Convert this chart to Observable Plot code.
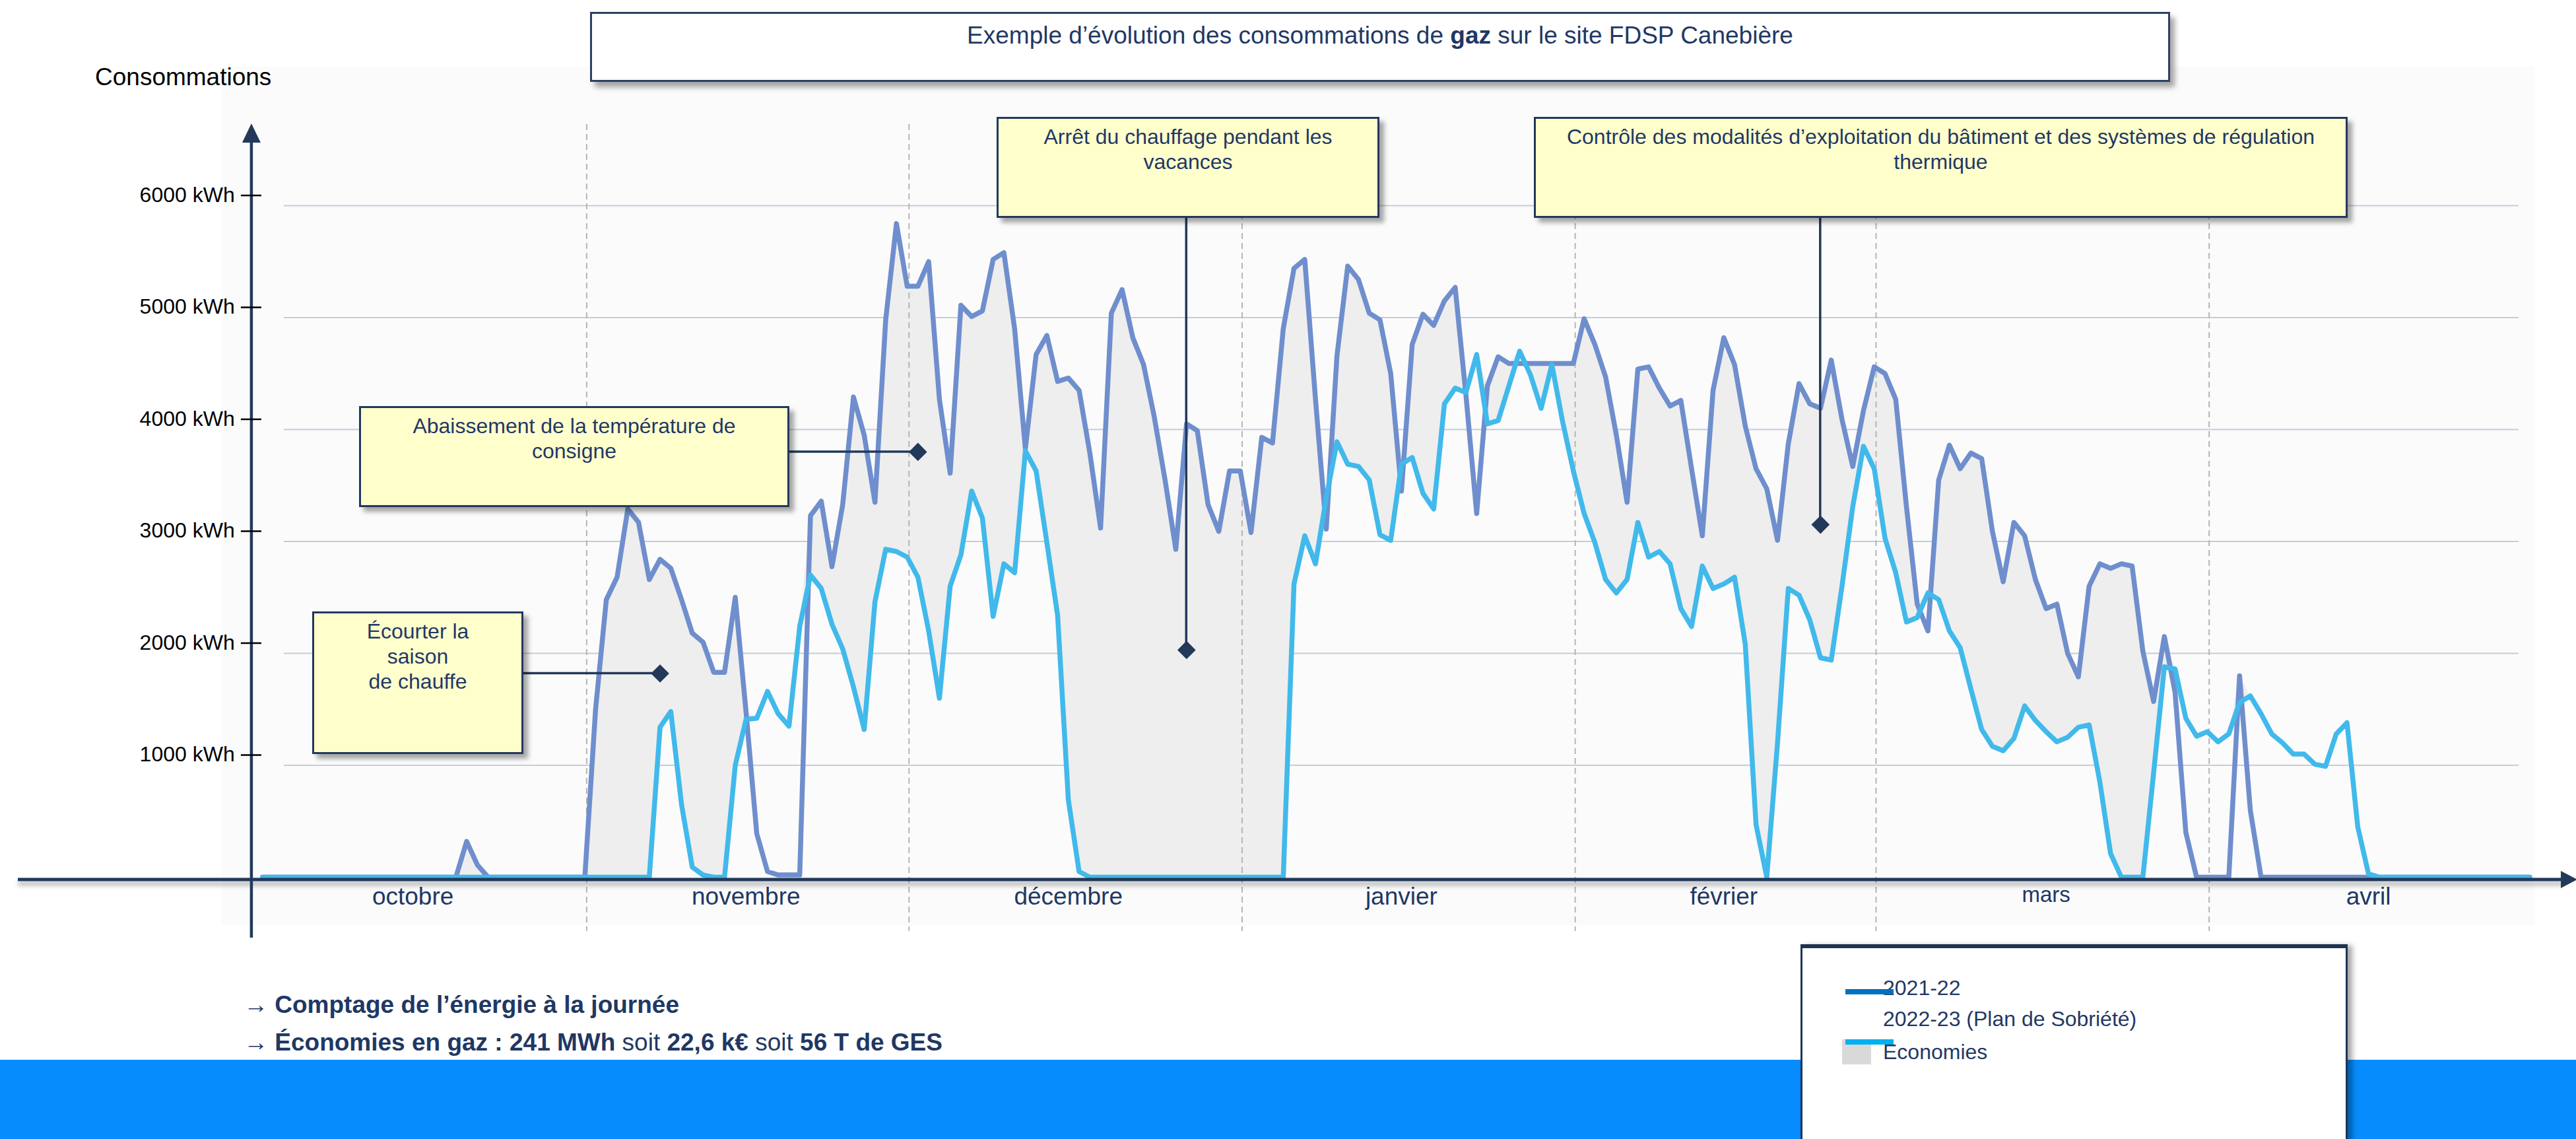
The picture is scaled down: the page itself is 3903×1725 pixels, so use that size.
<!DOCTYPE html>
<html><head><meta charset="utf-8">
<script src="https://cdn.jsdelivr.net/npm/d3@7"></script>
<script src="https://cdn.jsdelivr.net/npm/@observablehq/plot@0.6"></script>
<style>
html,body{margin:0;padding:0;background:#fff;}
#page{position:relative;width:3903px;height:1725px;overflow:hidden;background:#fff;font-family:"Liberation Sans",Arial,sans-serif;}
.abs{position:absolute;white-space:nowrap;}
.note{position:absolute;box-sizing:border-box;background:#ffffcc;border:3px solid #23395d;box-shadow:7px 7px 7px rgba(0,0,0,0.35);color:#1f3864;font-size:32px;line-height:38px;text-align:center;padding-top:8px;white-space:nowrap;}
</style></head>
<body><div id="page"></div>
<script>
// ---------------- data ----------------
const firstDay = "2022-10-01";
const months = ["octobre","novembre","décembre","janvier","février","mars","avril"];
const monthMid = ["2022-10-15","2022-11-15","2022-12-15","2023-01-15","2023-02-14","2023-03-16","2023-04-15"];
const monthStarts = ["2022-11-01","2022-12-01","2023-01-01","2023-02-01","2023-03-01","2023-04-01"];
const yTicks = [1000,2000,3000,4000,5000,6000];
const legendLabels = ["2021-22","2022-23 (Plan de Sobriété)","Économies"];

// 2021-22 daily consumption (kWh), 1 Oct -> 30 Apr
const conso2122 = [
0,0,0,0,0,0,0,0,0,0,
0,0,0,0,0,0,0,0,0,320,
110,0,0,0,0,0,0,0,0,0,
0,1500,2480,2680,3290,3170,2660,2840,2760,2480,
2180,2100,1830,1830,2500,1480,390,50,20,20,
20,3230,3360,2775,3330,4290,3950,3350,4980,5840,
5280,5280,5500,4270,3610,5110,5010,5060,5520,5580,
4900,3830,4670,4840,4430,4460,4350,3790,3120,5040,
5250,4820,4580,4110,3550,2930,4050,3990,3330,3090,
3630,3630,3080,3930,3880,4900,5440,5520,4270,3110,
4660,5460,5340,5040,4980,4500,3450,4760,5030,4930,
5150,5270,4310,3250,4390,4650,4590,4590,4590,4590,
4590,4590,4590,4990,4760,4470,3950,3350,4540,4560,
4370,4210,4260,3650,3050,4350,4820,4580,4030,3650,
3470,3010,3870,4410,4230,4190,4620,4090,3670,4170,
4560,4500,4270,3310,2440,2200,3550,3860,3650,3790,
3740,3090,2640,3170,3050,2660,2400,2440,2000,1790,
2600,2800,2760,2800,2780,2020,1570,2150,1650,400,
0,0,0,0,1800,600,0,0,0,0,
0,0,0,0,0,0,0,0,0,0,
0,0,0,0,0,0,0,0,0,0,
0,0
];
// 2022-23 (Plan de Sobriété) daily consumption (kWh)
const conso2223 = [
0,0,0,0,0,0,0,0,0,0,
0,0,0,0,0,0,0,0,0,0,
0,0,0,0,0,0,0,0,0,0,
0,0,0,0,0,0,0,1340,1480,650,
90,20,0,0,1000,1410,1420,1660,1460,1350,
2240,2700,2580,2260,2040,1700,1320,2460,2930,2910,
2860,2680,2200,1600,2600,2880,3450,3210,2330,2800,
2720,3810,3630,2990,2340,690,50,0,0,0,
0,0,0,0,0,0,0,0,0,0,
0,0,0,0,0,0,2620,3050,2800,3390,
3890,3690,3670,3550,3060,3010,3690,3750,3430,3290,
4230,4370,4330,4670,4050,4080,4390,4700,4490,4190,
4580,4070,3630,3250,2990,2660,2540,2660,3170,2860,
2910,2800,2400,2240,2780,2580,2620,2680,2080,470,
0,1200,2580,2520,2300,1960,1940,2600,3310,3850,
3650,3030,2720,2280,2320,2540,2480,2200,2050,1680,
1320,1170,1130,1240,1530,1400,1300,1210,1250,1340,
1360,850,210,0,0,0,930,1880,1860,1420,
1260,1300,1210,1280,1560,1620,1460,1280,1200,1100,
1100,1010,990,1280,1380,450,30,0,0,0,
0,0,0,0,0,0,0,0,0,0,
0,0
];

// annotations: text lines + data anchor of the diamond
const noteTexts = [
  ["Écourter la","saison","de chauffe"],
  ["Abaissement de la température de","consigne"],
  ["Arrêt du chauffage pendant les","vacances"],
  ["Contrôle des modalités d’exploitation du bâtiment et des systèmes de régulation","thermique"]
];
const noteDates = ["2022-11-07","2022-12-01","2022-12-26","2023-02-23"];
const noteValues = [1820, 3800, 2030, 3150];

// ---------------- layout (pixels) ----------------
const W = 3903, H = 1725;
const navy = "#1f3864", axisNavy = "#22395a";
const noteBoxes = [
  {left:473, top:926, width:320, height:216, side:"right"},
  {left:544, top:615, width:652, height:153, side:"right"},
  {left:1510, top:177, width:580, height:153, side:"bottom"},
  {left:2324, top:177, width:1233, height:153, side:"bottom"}
];

const page = document.getElementById("page");
function div(style, html) { const d = document.createElement("div"); d.className = "abs"; Object.assign(d.style, style); if (html !== undefined) d.innerHTML = html; page.appendChild(d); return d; }

// background panel + bottom band
div({left:"336px", top:"101px", width:"3504px", height:"1300px", background:"#fbfbfb"});
div({left:"0px", top:"1605px", width:W+"px", height:"120px", background:"#068cfd"});

// ---------------- chart ----------------
const day0 = new Date(firstDay + "T00:00:00Z");
const rows = conso2122.map((b, i) => ({date: d3.utcDay.offset(day0, i), b, c: conso2223[i]}));
const monthRows = months.map((m, i) => ({m, date: new Date(monthMid[i] + "T00:00:00Z")}));
const notes = noteTexts.map((t, i) => ({t, date: new Date(noteDates[i] + "T00:00:00Z"), value: noteValues[i], box: noteBoxes[i]}));
const gridFrom = d3.utcDay.offset(day0, 2), gridTo = d3.utcDay.offset(day0, 210);

const plot = Plot.plot({
  width: W, height: H,
  marginLeft: 397.2, marginRight: 70.7, marginTop: 311, marginBottom: 397,
  x: {type: "utc", domain: [rows[0].date, rows[rows.length - 1].date], axis: null},
  y: {type: "linear", domain: [0, 6000], axis: null},
  style: {background: "transparent", overflow: "visible", maxWidth: "none", fontFamily: "'Liberation Sans', Arial, sans-serif"},
  marks: [
    Plot.ruleY(yTicks, {y: d => d, x1: () => gridFrom, x2: () => gridTo, stroke: "#c6cdd8", strokeWidth: 2}),
    Plot.areaY(rows, {x: "date", y1: "c", y2: d => Math.max(d.b, d.c), fill: "#eeeeee"}),
    Plot.lineY(rows, {x: "date", y: "b", stroke: "#6f8ecd", strokeWidth: 7.5, strokeLinejoin: "round"}),
    Plot.lineY(rows, {x: "date", y: "c", stroke: "#41b9eb", strokeWidth: 7.5, strokeLinejoin: "round"}),
    Plot.text(yTicks, {y: d => d, text: d => `${d} kWh`, frameAnchor: "left", textAnchor: "end", dx: -42, dy: -16, fontSize: 32, fill: "#000"}),
    Plot.text(monthRows.filter(d => d.m !== "mars"), {x: "date", text: "m", frameAnchor: "bottom", dy: 41, fontSize: 37, fill: navy}),
    Plot.text(monthRows.filter(d => d.m === "mars"), {x: "date", text: "m", frameAnchor: "bottom", dy: 37, fontSize: 33, fill: navy}),
    Plot.dot(notes, {x: "date", y: "value", symbol: "diamond2", r: 11.5, fill: axisNavy, stroke: axisNavy})
  ]
});
plot.style.position = "absolute";
plot.style.left = "0px";
plot.style.top = "0px";
page.appendChild(plot);

const X = plot.scale("x"), Y = plot.scale("y");
const svg = d3.select(plot);
const defs = svg.insert("defs", ":first-child");
defs.append("filter").attr("id", "axshadow").attr("filterUnits", "userSpaceOnUse")
  .attr("x", 0).attr("y", 1300).attr("width", W).attr("height", 80)
  .append("feDropShadow").attr("dx", 0).attr("dy", 6).attr("stdDeviation", 3.5)
  .attr("flood-color", "#000").attr("flood-opacity", 0.35);

// dashed month separators, beneath the lines
const firstLine = plot.querySelector('g[aria-label="line"]');
const dash = d3.create("svg:g");
monthStarts.forEach(s => {
  const x = X.apply(new Date(s + "T00:00:00Z")) - 13;
  dash.append("line").attr("x1", x).attr("x2", x).attr("y1", 188).attr("y2", 1410)
    .attr("stroke", "#b5b5b5").attr("stroke-width", 2).attr("stroke-dasharray", "9,6");
});
plot.insertBefore(dash.node(), firstLine);

// axes
const yAxisX = X.apply(d3.utcDay.offset(day0, -1));
const yb = Y.apply(0) + 4;
const ax = svg.append("g");
ax.append("line").attr("x1", 27).attr("x2", 3884).attr("y1", yb).attr("y2", yb)
  .attr("stroke", axisNavy).attr("stroke-width", 5).attr("filter", "url(#axshadow)");
ax.append("path").attr("d", `M3905,${yb} L3880,${yb - 13} L3880,${yb + 13} Z`).attr("fill", axisNavy);
ax.append("line").attr("x1", yAxisX).attr("x2", yAxisX).attr("y1", 1420).attr("y2", 210)
  .attr("stroke", axisNavy).attr("stroke-width", 4.5);
ax.append("path").attr("d", `M${yAxisX},187 L${yAxisX - 14},216 L${yAxisX + 14},216 Z`).attr("fill", axisNavy);
yTicks.forEach(t => {
  const y = Y.apply(t) - 15;
  ax.append("line").attr("x1", yAxisX - 16).attr("x2", yAxisX + 15).attr("y1", y).attr("y2", y)
    .attr("stroke", "#000").attr("stroke-width", 2.5);
});

// connectors from boxes to diamonds (beneath diamonds)
const dotG = plot.querySelector('g[aria-label="dot"]');
const con = d3.create("svg:g");
notes.forEach(n => {
  const px = X.apply(n.date), py = Y.apply(n.value), b = n.box;
  if (b.side === "right") con.append("line").attr("x1", b.left + b.width).attr("x2", px).attr("y1", py).attr("y2", py);
  else con.append("line").attr("x1", px).attr("x2", px).attr("y1", b.top + b.height).attr("y2", py);
});
con.selectAll("line").attr("stroke", axisNavy).attr("stroke-width", 3.5);
plot.insertBefore(con.node(), dotG);

// ---------------- texts & boxes ----------------
div({left:"144px", top:"96px", fontSize:"37px", lineHeight:"42px", color:"#000"}, "Consommations");

div({left:"894px", top:"18px", width:"2394px", height:"106px", boxSizing:"border-box", background:"#fff",
     border:"3px solid #2b4262", boxShadow:"7px 8px 8px rgba(0,0,0,0.35)", textAlign:"center",
     fontSize:"37px", lineHeight:"44px", paddingTop:"11px", color:navy},
    "Exemple d’évolution des consommations de <b>gaz</b> sur le site FDSP Canebière");

notes.forEach(n => {
  const d = document.createElement("div");
  d.className = "note";
  Object.assign(d.style, {left: n.box.left + "px", top: n.box.top + "px", width: n.box.width + "px", height: n.box.height + "px"});
  d.innerHTML = n.t.join("<br>");
  page.appendChild(d);
});

div({left:"369px", top:"1500px", fontSize:"37px", lineHeight:"43px", fontWeight:"bold", color:navy},
    "→ Comptage de l’énergie à la journée");
div({left:"369px", top:"1557px", fontSize:"37px", lineHeight:"43px", fontWeight:"bold", color:navy},
    "→ Économies en gaz : 241 MWh <span style='font-weight:normal'>soit</span> 22,6 k€ <span style='font-weight:normal'>soit</span> 56 T de GES");

// legend
div({left:"2728px", top:"1430px", width:"829px", height:"340px", boxSizing:"border-box", background:"#fff",
     border:"3px solid #1f3557", borderTop:"6px solid #1d3350", boxShadow:"7px 2px 8px rgba(0,0,0,0.35)"});
div({left:"2791px", top:"1574px", width:"44px", height:"38px", background:"#d9d9d9"});
div({left:"2853px", top:"1477px", fontSize:"32px", lineHeight:"38px", color:navy}, legendLabels[0]);
div({left:"2853px", top:"1524px", fontSize:"32px", lineHeight:"38px", color:navy}, legendLabels[1]);
div({left:"2853px", top:"1574px", fontSize:"32px", lineHeight:"38px", color:navy}, legendLabels[2]);
div({left:"2796px", top:"1498px", width:"73px", height:"8px", background:"#0070c0"});
div({left:"2796px", top:"1574px", width:"73px", height:"8px", background:"#00b0f0"});
</script></body></html>
